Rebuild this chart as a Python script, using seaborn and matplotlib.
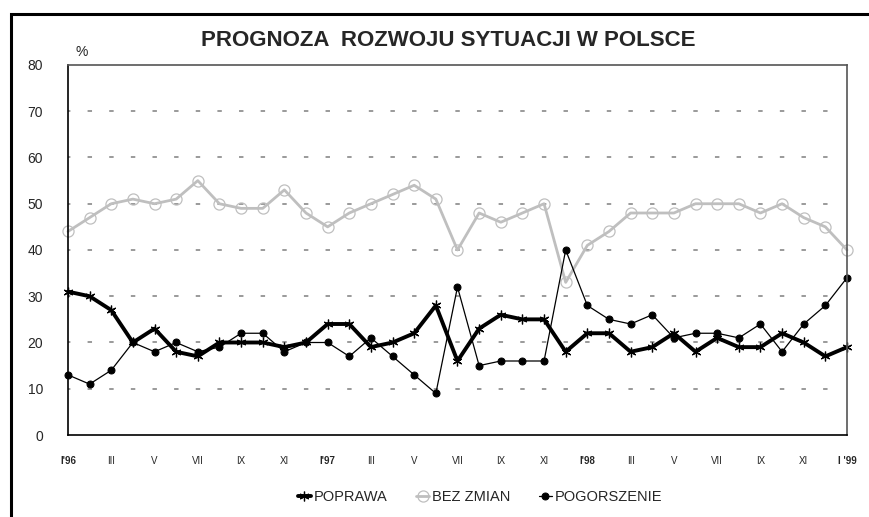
import numpy as np
import pandas as pd
import matplotlib
matplotlib.use("Agg")
import matplotlib.pyplot as plt
import seaborn as sns

# -----------------------------
# DATA (monthly, I'96 .. I'99)
# -----------------------------
months = ["I'96", "II", "III", "IV", "V", "VI", "VII", "VIII", "IX", "X", "XI", "XII",
          "I'97", "II", "III", "IV", "V", "VI", "VII", "VIII", "IX", "X", "XI", "XII",
          "I'98", "II", "III", "IV", "V", "VI", "VII", "VIII", "IX", "X", "XI", "XII",
          "I '99"]

poprawa = [31, 30, 27, 20, 23, 18, 17, 20, 20, 20, 19, 20,
           24, 24, 19, 20, 22, 28, 16, 23, 26, 25, 25, 18,
           22, 22, 18, 19, 22, 18, 21, 19, 19, 22, 20, 17,
           19]

bez_zmian = [44, 47, 50, 51, 50, 51, 55, 50, 49, 49, 53, 48,
             45, 48, 50, 52, 54, 51, 40, 48, 46, 48, 50, 33,
             41, 44, 48, 48, 48, 50, 50, 50, 48, 50, 47, 45,
             40]

pogorszenie = [13, 11, 14, 20, 18, 20, 18, 19, 22, 22, 18, 20,
               20, 17, 21, 17, 13, 9, 32, 15, 16, 16, 16, 40,
               28, 25, 24, 26, 21, 22, 22, 21, 24, 18, 24, 28,
               34]

yticks = [0, 10, 20, 30, 40, 50, 60, 70, 80]

df = pd.DataFrame({
    "t": np.arange(len(months)),
    "POPRAWA": poprawa,
    "BEZ ZMIAN": bez_zmian,
    "POGORSZENIE": pogorszenie,
})

# -----------------------------
# STYLE
# -----------------------------
sns.set_style("white")
plt.rcParams["font.family"] = ["Liberation Sans", "DejaVu Sans"]

fig = plt.figure(figsize=(8.69, 5.17), dpi=100)
ax = fig.add_axes([0.0782, 0.1586, 0.8965, 0.7157])

# outer frame of the figure
fig.add_artist(plt.Rectangle((11 / 869, -0.02), 1.0, 1 - 14 / 517 + 0.02,
                             transform=fig.transFigure, fill=False,
                             edgecolor="black", linewidth=2.2))

# grid lines (short dashes, one per month)
for y in yticks[1:-1]:
    ax.hlines(y, 0, len(months) - 1.6, color="#7f7f7f", linewidth=1.1,
              linestyle=(1.34, (2.9, 11.26)), zorder=0)

# -----------------------------
# LINES
# -----------------------------
sns.lineplot(data=df, x="t", y="POPRAWA", ax=ax, color="black", linewidth=2.8,
             marker=(6, 2, 0), markersize=7, markeredgewidth=0.9,
             markeredgecolor="black", label="POPRAWA", clip_on=False)
sns.lineplot(data=df, x="t", y="BEZ ZMIAN", ax=ax, color="#bfbfbf", linewidth=2.0,
             marker="o", markersize=8, markerfacecolor="none",
             markeredgecolor="#bfbfbf", markeredgewidth=0.9,
             label="BEZ ZMIAN", clip_on=False)
sns.lineplot(data=df, x="t", y="POGORSZENIE", ax=ax, color="black", linewidth=0.9,
             marker="o", markersize=5, markerfacecolor="black",
             markeredgecolor="black", label="POGORSZENIE", clip_on=False)

# -----------------------------
# AXES
# -----------------------------
ax.set_xlim(0, len(months) - 1)
ax.set_ylim(0, 80)
ax.set_xlabel("")
ax.set_ylabel("")

ax.set_yticks(yticks)
ax.set_yticklabels([str(v) for v in yticks], fontsize=10)

ax.set_xticks(df["t"])
xlabels = [m if i % 2 == 0 else "" for i, m in enumerate(months)]
ax.set_xticklabels(xlabels, fontsize=7)
for lab in ax.get_xticklabels():
    if "'" in lab.get_text():
        lab.set_fontweight("bold")

ax.tick_params(axis="x", direction="out", length=8, width=1, color="#404040", pad=7)
ax.tick_params(axis="y", direction="out", length=8.6, width=1, color="black", pad=9.4)

for side in ["left", "bottom"]:
    ax.spines[side].set_color("black")
    ax.spines[side].set_linewidth(1.2)
for side in ["top", "right"]:
    ax.spines[side].set_color("#555555")
    ax.spines[side].set_linewidth(1.2)

# -----------------------------
# TEXT
# -----------------------------
fig.text(448.5 / 869, 1 - 40 / 517, "PROGNOZA  ROZWOJU SYTUACJI W POLSCE",
         ha="center", va="center", fontsize=16, fontweight="bold")
fig.text(82 / 869, 1 - 52 / 517, "%", ha="center", va="center", fontsize=10)

ax.legend(loc="center", bbox_to_anchor=(0.529, -0.167), ncol=3, frameon=False,
          fontsize=10.5, handlelength=0.85, handletextpad=0.2, columnspacing=2.0,
          borderpad=0, borderaxespad=0)

fig.savefig("out.png", dpi=100)
